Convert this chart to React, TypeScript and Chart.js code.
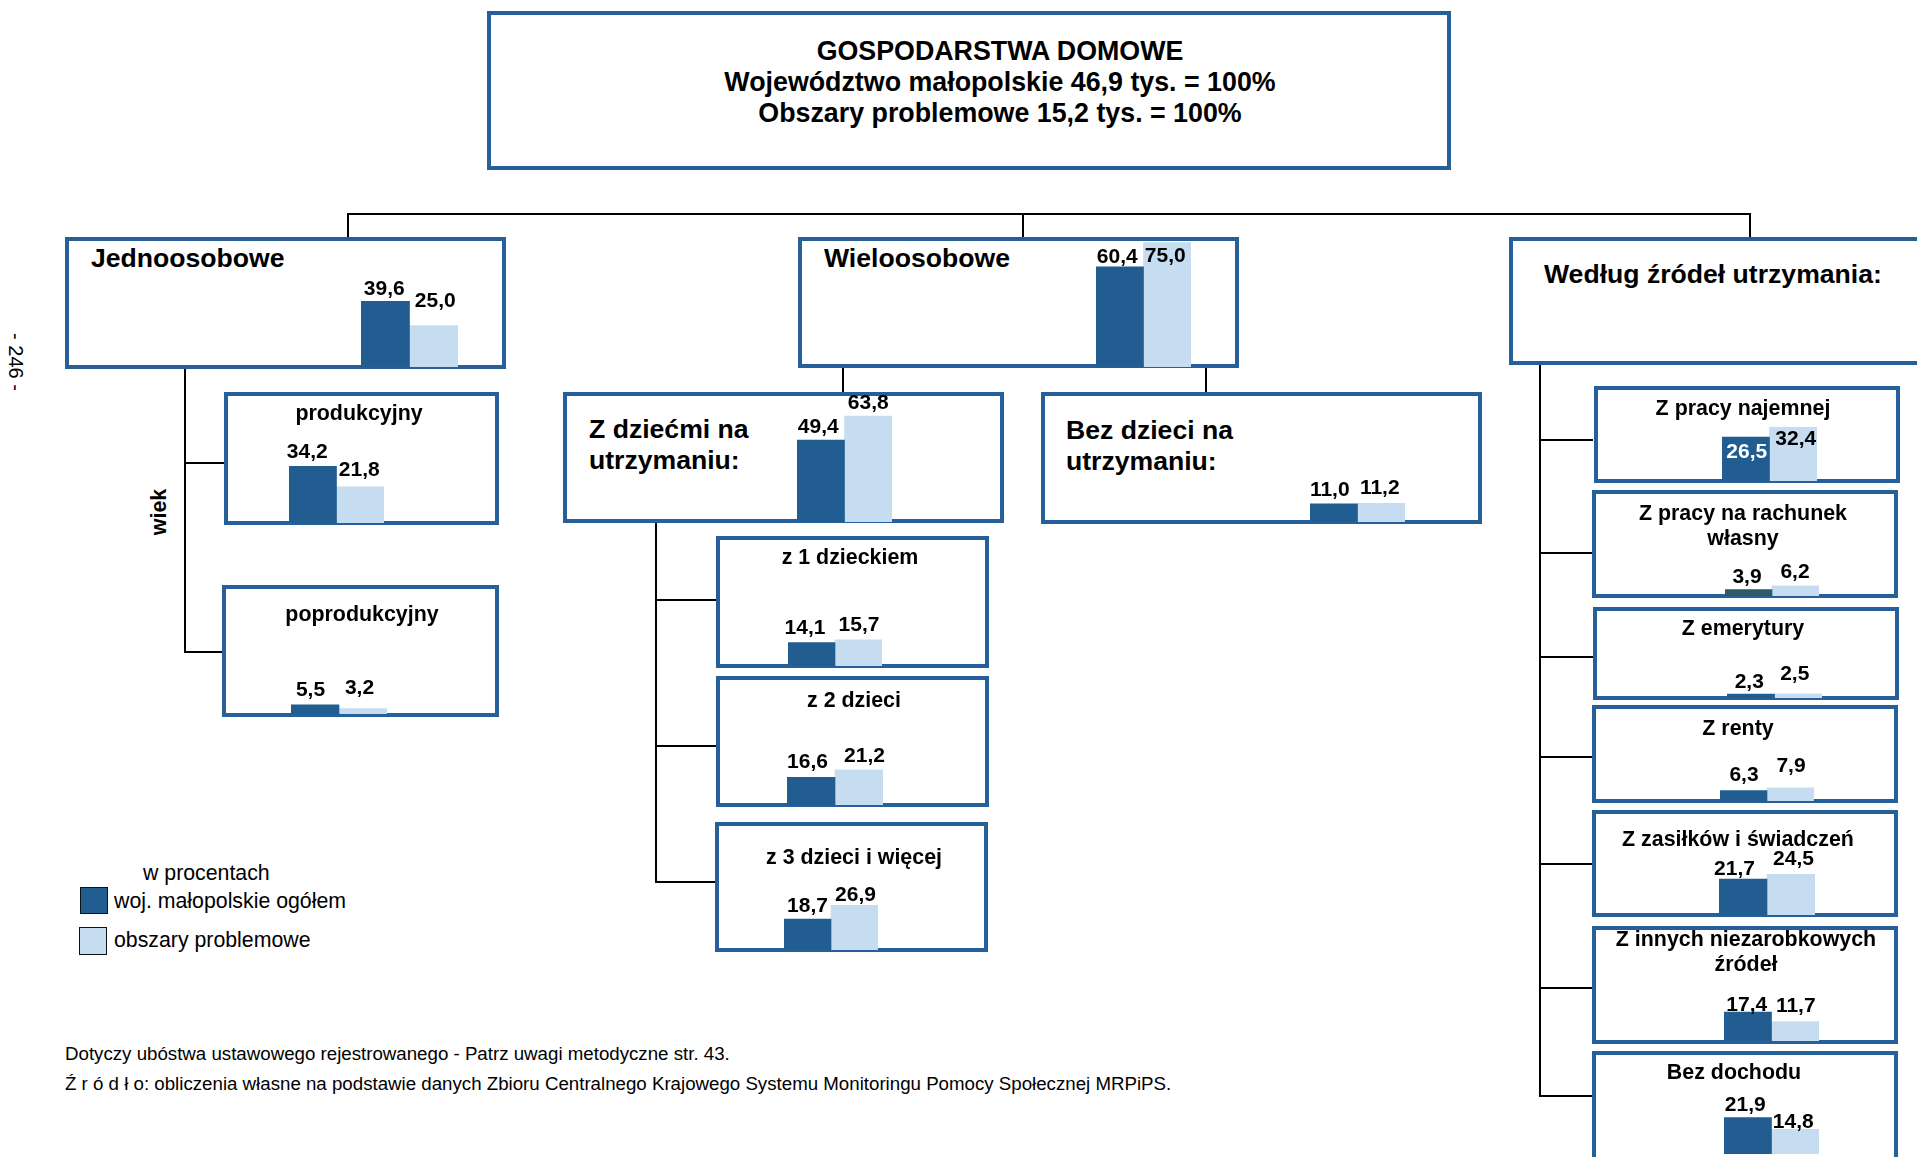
import React, { useEffect, useRef } from 'react';
import { Chart, registerables } from 'chart.js';

Chart.register(...registerables);

// ---------------- DATA ----------------
const categories = [
  'Jednoosobowe',
  'Wieloosobowe',
  'produkcyjny',
  'poprodukcyjny',
  'Z dziećmi na utrzymaniu',
  'Bez dzieci na utrzymaniu',
  'z 1 dzieckiem',
  'z 2 dzieci',
  'z 3 dzieci i więcej',
  'Z pracy najemnej',
  'Z pracy na rachunek własny',
  'Z emerytury',
  'Z renty',
  'Z zasiłków i świadczeń',
  'Z innych niezarobkowych źródeł',
  'Bez dochodu',
];
const malopolskie = [39.6, 60.4, 34.2, 5.5, 49.4, 11.0, 14.1, 16.6, 18.7, 26.5, 3.9, 2.3, 6.3, 21.7, 17.4, 21.9];
const obszary = [25.0, 75.0, 21.8, 3.2, 63.8, 11.2, 15.7, 21.2, 26.9, 32.4, 6.2, 2.5, 7.9, 24.5, 11.7, 14.8];
const seriesNames = ['woj. małopolskie ogółem', 'obszary problemowe'];
const titleLines = [
  'GOSPODARSTWA DOMOWE',
  'Województwo małopolskie 46,9 tys. = 100%',
  'Obszary problemowe 15,2 tys. = 100%',
];
const unitLabel = 'w procentach';
const footnotes = [
  'Dotyczy ubóstwa ustawowego rejestrowanego - Patrz uwagi metodyczne str. 43.',
  'Ź r ó d ł o: obliczenia własne na podstawie danych Zbioru Centralnego Krajowego Systemu Monitoringu Pomocy Społecznej MRPiPS.',
];

// ---------------- STYLE / LAYOUT ----------------
const DARK = '#215d90';
const DARK_ALT = '#2c5a68';
const LIGHT = '#c6ddf1';
const BORDER = '#25609a';
const FONT = '"Liberation Sans", Arial, Helvetica, sans-serif';
const PX_PER_UNIT = 1.66;
const PAD = 26;
const CH = 150;
const SUB = 21.4;
const BIG = 26.6;

type Slot = {
  left: number;
  right: number;
  base: number;
  dy: [number, number];
  dx: [number, number];
  labelColors?: [string, string];
  darkColor?: string;
};

const slots: Slot[] = [
  { left: 361, right: 458, base: 367, dy: [12, 24], dx: [-1, 1.5] },
  { left: 1096, right: 1191, base: 367, dy: [10, -14], dx: [-2.5, -2] },
  { left: 289, right: 384, base: 523, dy: [14, 17], dx: [-5.5, -1] },
  { left: 291, right: 387, base: 714, dy: [15, 20], dx: [-4.5, -3.5] },
  { left: 797, right: 892, base: 522, dy: [13, 13], dx: [-2.5, 0] },
  { left: 1310, right: 1405, base: 522, dy: [14, 15], dx: [-4, -1.5] },
  { left: 788, right: 882, base: 666, dy: [14, 15], dx: [-6.5, 0.5] },
  { left: 787, right: 883, base: 805, dy: [15, 14], dx: [-3.5, 5.5] },
  { left: 784, right: 878, base: 950, dy: [13, 10], dx: [0, 1] },
  { left: 1722, right: 1817, base: 481, dy: [-15, -12], dx: [1, 2.5], labelColors: ['#ffffff', '#000000'] },
  { left: 1725, right: 1819, base: 596, dy: [12, 14], dx: [-1.5, -0.5], darkColor: DARK_ALT },
  { left: 1727, right: 1822, base: 698, dy: [12, 20], dx: [-1.5, -3.5] },
  { left: 1720, right: 1814, base: 801, dy: [15, 22], dx: [0.5, 0.5] },
  { left: 1719, right: 1815, base: 915, dy: [10, 15], dx: [-8.5, 2.5] },
  { left: 1724, right: 1819, base: 1041, dy: [7, 15], dx: [-1, 0.5] },
  { left: 1724, right: 1819, base: 1154, dy: [12, 7], dx: [-2.5, -2] },
];

const fmt = (v: number) => v.toFixed(1).replace('.', ',');

function BarPair({ idx }: { idx: number }) {
  const ref = useRef<HTMLCanvasElement>(null);
  const s = slots[idx];
  const w = s.right - s.left + 2 * PAD;
  useEffect(() => {
    if (!ref.current) return;
    const labelPlugin = {
      id: 'valueLabels',
      afterDatasetsDraw(chart: any) {
        const ctx = chart.ctx;
        ctx.save();
        ctx.font = `bold 21px ${FONT}`;
        ctx.textAlign = 'center';
        ctx.textBaseline = 'middle';
        chart.data.datasets.forEach((ds: any, di: number) => {
          const el = chart.getDatasetMeta(di).data[0];
          if (!el) return;
          ctx.fillStyle = s.labelColors ? s.labelColors[di] : '#000000';
          ctx.fillText(fmt(ds.data[0]), el.x + s.dx[di], el.y - s.dy[di]);
        });
        ctx.restore();
      },
    };
    const chart = new Chart(ref.current, {
      type: 'bar',
      data: {
        labels: [categories[idx]],
        datasets: [
          { label: seriesNames[0], data: [malopolskie[idx]], backgroundColor: s.darkColor || DARK, borderWidth: 0 },
          { label: seriesNames[1], data: [obszary[idx]], backgroundColor: LIGHT, borderWidth: 0 },
        ],
      },
      options: {
        animation: false,
        responsive: false,
        maintainAspectRatio: false,
        events: [],
        layout: { padding: { left: PAD, right: PAD, top: 0, bottom: 0 } },
        plugins: { legend: { display: false }, tooltip: { enabled: false } },
        datasets: { bar: { categoryPercentage: 1, barPercentage: 1 } },
        scales: {
          x: { display: false },
          y: { display: false, min: 0, max: CH / PX_PER_UNIT },
        },
      } as any,
      plugins: [labelPlugin],
    });
    return () => chart.destroy();
  }, [idx]);
  return (
    <canvas
      ref={ref}
      width={w}
      height={CH}
      style={{ position: 'absolute', left: s.left - PAD, top: s.base - CH, width: w, height: CH, zIndex: 2 }}
    />
  );
}

function Box({ l, t, r, b }: { l: number; t: number; r: number; b: number }) {
  return (
    <div
      style={{
        position: 'absolute',
        left: l,
        top: t,
        width: r - l,
        height: b - t,
        border: `4px solid ${BORDER}`,
        boxSizing: 'border-box',
        background: '#fff',
        zIndex: 1,
      }}
    />
  );
}

function HL({ x1, x2, y }: { x1: number; x2: number; y: number }) {
  return <div style={{ position: 'absolute', left: x1, top: y - 1, width: x2 - x1, height: 2, background: '#000' }} />;
}
function VL({ x, y1, y2 }: { x: number; y1: number; y2: number }) {
  return <div style={{ position: 'absolute', left: x - 1, top: y1, width: 2, height: y2 - y1, background: '#000' }} />;
}

function T({
  x,
  y,
  text,
  size = SUB,
  bold = true,
  align = 'center',
  rotate = 0,
}: {
  x: number;
  y: number;
  text: string;
  size?: number;
  bold?: boolean;
  align?: 'left' | 'center';
  rotate?: number;
}) {
  const tx = align === 'center' ? '-50%' : '0';
  return (
    <div
      style={{
        position: 'absolute',
        left: x,
        top: y,
        transform: `translate(${tx}, -50%)${rotate ? ` rotate(${rotate}deg)` : ''}`,
        fontFamily: FONT,
        fontSize: size,
        fontWeight: bold ? 700 : 400,
        lineHeight: 1,
        whiteSpace: 'nowrap',
        color: '#000',
        zIndex: 3,
      }}
    >
      {text}
    </div>
  );
}

export default function App() {
  return (
    <div
      style={{
        position: 'absolute',
        left: 0,
        top: 0,
        width: 1917,
        height: 1157,
        overflow: 'hidden',
        background: '#fff',
      }}
    >
      {/* connectors */}
      <HL x1={347} x2={1751} y={214} />
      <VL x={348} y1={214} y2={237} />
      <VL x={1023} y1={214} y2={237} />
      <VL x={1750} y1={214} y2={237} />
      <VL x={185} y1={369} y2={653} />
      <HL x1={185} x2={224} y={463} />
      <HL x1={185} x2={222} y={652} />
      <VL x={843} y1={368} y2={392} />
      <VL x={1206} y1={368} y2={392} />
      <VL x={656} y1={523} y2={883} />
      <HL x1={656} x2={716} y={600} />
      <HL x1={656} x2={716} y={746} />
      <HL x1={656} x2={715} y={882} />
      <VL x={1540} y1={365} y2={1097} />
      {[440, 553, 657, 757, 864, 988, 1096].map((y) => (
        <HL key={y} x1={1540} x2={1593} y={y} />
      ))}

      {/* boxes */}
      <Box l={487} t={11} r={1451} b={170} />
      <Box l={65} t={237} r={506} b={369} />
      <Box l={798} t={237} r={1239} b={368} />
      <Box l={1509} t={237} r={1940} b={365} />
      <Box l={224} t={392} r={499} b={525} />
      <Box l={222} t={585} r={499} b={717} />
      <Box l={563} t={392} r={1004} b={523} />
      <Box l={1041} t={392} r={1482} b={524} />
      <Box l={716} t={536} r={989} b={668} />
      <Box l={716} t={676} r={989} b={807} />
      <Box l={715} t={822} r={988} b={952} />
      <Box l={1594} t={386} r={1900} b={483} />
      <Box l={1592} t={490} r={1898} b={598} />
      <Box l={1593} t={607} r={1899} b={700} />
      <Box l={1592} t={705} r={1898} b={803} />
      <Box l={1592} t={810} r={1898} b={917} />
      <Box l={1592} t={926} r={1898} b={1044} />
      <Box l={1592} t={1051} r={1898} b={1170} />

      {/* titles */}
      <T x={1000} y={51} text={titleLines[0]} size={26.8} />
      <T x={1000} y={82} text={titleLines[1]} size={26.8} />
      <T x={1000} y={113} text={titleLines[2]} size={26.8} />
      <T x={91} y={258} text="Jednoosobowe" size={BIG} align="left" />
      <T x={824} y={258} text="Wieloosobowe" size={BIG} align="left" />
      <T x={1544} y={274} text="Według źródeł utrzymania:" size={BIG} align="left" />
      <T x={589} y={429} text="Z dziećmi na" size={BIG} align="left" />
      <T x={589} y={460} text="utrzymaniu:" size={BIG} align="left" />
      <T x={1066} y={430} text="Bez dzieci na" size={BIG} align="left" />
      <T x={1066} y={461} text="utrzymaniu:" size={BIG} align="left" />

      <T x={359} y={414} text="produkcyjny" />
      <T x={362} y={615} text="poprodukcyjny" />
      <T x={850} y={558} text="z 1 dzieckiem" />
      <T x={854} y={701} text="z 2 dzieci" />
      <T x={854} y={858} text="z 3 dzieci i więcej" />
      <T x={1743} y={409} text="Z pracy najemnej" />
      <T x={1743} y={514} text="Z pracy na rachunek" />
      <T x={1743} y={539} text="własny" />
      <T x={1743} y={629} text="Z emerytury" />
      <T x={1738} y={729} text="Z renty" />
      <T x={1738} y={840} text="Z zasiłków i świadczeń" />
      <T x={1746} y={940} text="Z innych niezarobkowych" />
      <T x={1746} y={965} text="źródeł" />
      <T x={1734} y={1073} text="Bez dochodu" />

      <T x={160} y={512} text="wiek" rotate={-90} />
      <T x={16} y={362} text="- 246 -" size={20} bold={false} rotate={90} />

      {/* bars */}
      {categories.map((_, i) => (
        <BarPair key={i} idx={i} />
      ))}

      {/* legend */}
      <T x={143} y={874} text={unitLabel} size={21.3} bold={false} align="left" />
      <div
        style={{
          position: 'absolute',
          left: 80,
          top: 887,
          width: 28,
          height: 27,
          background: DARK,
          border: '1.5px solid #111',
          boxSizing: 'border-box',
        }}
      />
      <T x={114} y={902} text={seriesNames[0]} size={21.3} bold={false} align="left" />
      <div
        style={{
          position: 'absolute',
          left: 79,
          top: 927,
          width: 28,
          height: 28,
          background: LIGHT,
          border: '1.5px solid #111',
          boxSizing: 'border-box',
        }}
      />
      <T x={114} y={941} text={seriesNames[1]} size={21.3} bold={false} align="left" />

      {/* footnotes */}
      <T x={65} y={1054} text={footnotes[0]} size={18.7} bold={false} align="left" />
      <T x={65} y={1084} text={footnotes[1]} size={18.7} bold={false} align="left" />
    </div>
  );
}
